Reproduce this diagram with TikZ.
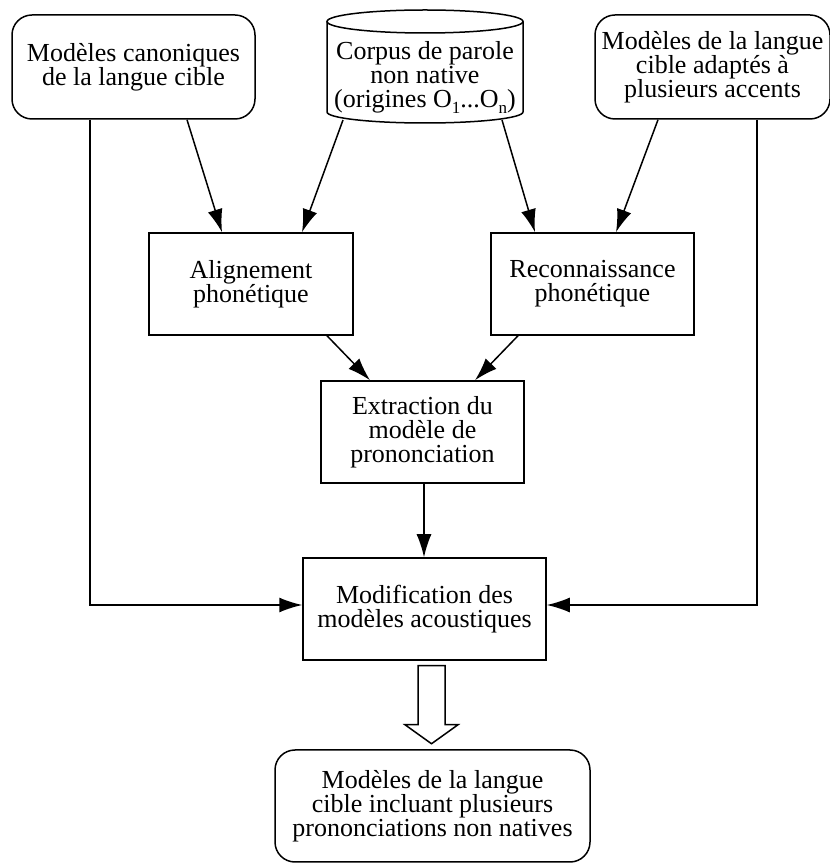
\documentclass[tikz,border=0pt]{standalone}
\usepackage{fontspec}
\setmainfont{Liberation Serif}
\usetikzlibrary{arrows.meta}

\tikzset{
  box/.style={draw, line width=1.5pt, minimum width=203pt, minimum height=102pt, align=center, inner sep=0pt},
  rbox/.style={box, rounded corners=20pt, minimum height=104pt},
}
\newcommand{\idx}[1]{\raisebox{-6pt}{\fontsize{17}{17}\selectfont #1}}

\begin{document}
\begin{tikzpicture}[x=1pt,y=1pt,>={Latex[length=23pt,width=15pt]},line width=1.5pt,font=\fontsize{26}{24}\selectfont]
    \useasboundingbox (0,0) rectangle (830,863);
    % sources
    \node[rbox, minimum width=243pt] (canon) at (133.5,796) {Modèles canoniques\\de la langue cible};
    \node[rbox, minimum width=235pt] (accents) at (712.5,796) {Modèles de la langue\\cible adaptés à\\plusieurs accents};
    \node[align=center, inner sep=0pt] (corpus) at (425,786) {Corpus de parole\\non native\\(origines O\idx{1}...O\idx{n})};
    \coordinate (corpustop) at (425,841.5);
    \draw (corpustop) ellipse[x radius=98, y radius=11.5];
    \draw ([xshift=-98pt]corpustop) -- ++(0,-90.5) arc[start angle=180, end angle=360, x radius=98, y radius=11] -- ([xshift=98pt]corpustop);
    \coordinate (corpusbl) at (343,743);
    \coordinate (corpusbr) at (502,743);
    % traitements
    \node[box, minimum width=204pt] (align) at (251,579) {Alignement\\phonétique};
    \node[box] (recon) at (592.5,579) {Reconnaissance\\phonétique};
    \node[box] (extract) at (422.5,431) {Extraction du\\modèle de\\prononciation};
    \node[box, minimum width=243pt] (modif) at (424.5,254) {Modification des\\modèles acoustiques};
    \node[rbox, minimum width=315pt, minimum height=112pt] (result) at (432.5,57) {Modèles de la langue\\cible incluant plusieurs\\prononciations non natives};
    % liens
    \draw[->] ([xshift=53.5pt]canon.south) -- ([xshift=-29pt]align.north);
    \draw[->] (corpusbl) -- ([xshift=51pt]align.north);
    \draw[->] (corpusbr) -- ([xshift=-57.5pt]recon.north);
    \draw[->] ([xshift=-54.5pt]accents.south) -- ([xshift=23.5pt]recon.north);
    \draw[->] ([xshift=76pt]align.south) -- ([xshift=-52.5pt]extract.north);
    \draw[->] ([xshift=-74.5pt]recon.south) -- ([xshift=52.5pt]extract.north);
    \draw[->] ([xshift=1.5pt]extract.south) -- ([xshift=-0.5pt]modif.north);
    \draw[->] ([xshift=-43.5pt]canon.south) |- ([yshift=4pt]modif.west);
    \draw[->] ([xshift=44.5pt]accents.south) |- ([yshift=4pt]modif.east);
    % grosse fleche
    \coordinate (hollow) at ([xshift=7pt,yshift=-5pt]modif.south);
    \draw ([xshift=-13.5pt]hollow) -- ++(0,-59) -- ++(-13,0) -- ++(26.5,-19) -- ++(26.5,19) -- ++(-13,0) -- ++(0,59) -- cycle;
\end{tikzpicture}
\end{document}
